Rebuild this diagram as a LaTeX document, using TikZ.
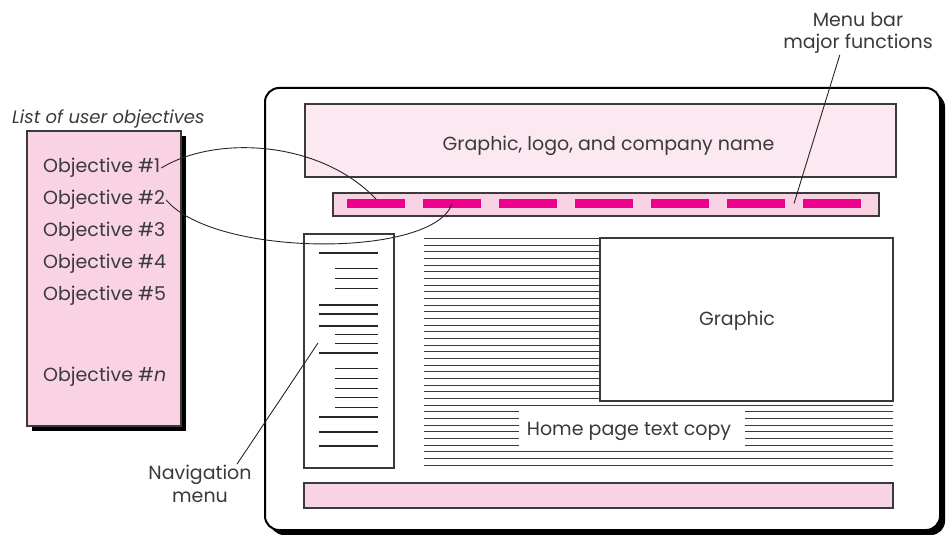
\documentclass[tikz,border=0pt]{standalone}
\usepackage{fontspec}
\setmainfont{Poppins}
\usetikzlibrary{shadows,calc}
\definecolor{pinklight}{HTML}{FCE8F1}
\definecolor{pinkmid}{HTML}{F9D3E4}
\definecolor{magentabar}{HTML}{EC008C}
\definecolor{inkgray}{HTML}{3A3A3A}
\tikzset{
  txt/.style={font=\fontsize{19}{22.5}\selectfont, text=inkgray, inner sep=1pt, yshift=-3pt},
  panel/.style={draw=inkgray, line width=1.2pt, fill=#1, inner sep=0pt},
  hardshadow/.style={drop shadow={shadow xshift=5pt, shadow yshift=-5pt, fill=black, opacity=1}},
  menudash/.style={fill=magentabar, minimum width=58pt, minimum height=8.5pt, inner sep=0pt},
  copyline/.style={draw=inkgray, line width=0.9pt},
  navthick/.style={draw=black!85, line width=2pt},
  navthin/.style={draw=black!85, line width=1pt},
  connector/.style={draw=black!85, line width=0.9pt},
}
\begin{document}
\begin{tikzpicture}[x=1pt, y=-1pt]
  \useasboundingbox (0,0) rectangle (948,535);
  % browser window
  \node[draw=black, line width=2pt, fill=white, rounded corners=14pt, hardshadow,
        minimum width=675pt, minimum height=442pt, inner sep=0pt] (browser) at (602.5,309) {};
  \node[panel=pinklight, minimum width=591pt, minimum height=73pt] (header) at (600.5,140.5) {};
  \node[txt] (headertxt) at ($(header.center)+(8,2)$) {Graphic, logo, and company name};
  \node[panel=pinkmid, minimum width=546pt, minimum height=23pt] (menubar) at (606,204.5) {};
  \foreach \i in {1,...,7}
    \node[menudash] (d\i) at ({376+76*(\i-1)},203.5) {};
  % navigation column
  \node[panel=white, minimum width=90pt, minimum height=234pt] (nav) at (349,351) {};
  \foreach \y in {253,305,314,326,353,417,432,446}
    \draw[navthick] (319,\y) -- (378,\y);
  \foreach \y in {268,278,288,334,343,368,378,388,397,407}
    \draw[navthin] (335,\y) -- (378,\y);
  % text copy
  \foreach \k [evaluate=\k as \y using 238.3+6.67*\k] in {0,...,24}
    \draw[copyline] (424,\y) -- (600,\y);
  \foreach \k [evaluate=\k as \y using 238.3+6.67*\k] in {25,32,33,34}
    \draw[copyline] (424,\y) -- (893,\y);
  \foreach \k [evaluate=\k as \y using 238.3+6.67*\k] in {26,...,31} {
    \draw[copyline] (424,\y) -- (519,\y);
    \draw[copyline] (745,\y) -- (893,\y);
  }
  \node[panel=white, minimum width=293pt, minimum height=163pt] (graphic) at (746.5,319.5) {};
  \node[txt] (graphictxt) at ($(graphic.center)+(-9.5,-1.5)$) {Graphic};
  \node[txt] (homecopy) at (629,428.5) {Home page text copy};
  \node[panel=pinkmid, minimum width=589pt, minimum height=25pt] (footer) at (598.5,495.5) {};
  % objectives list
  \node[txt, anchor=west, font=\fontsize{18}{22.5}\selectfont\itshape] (objtitle) at (11,116) {List of user objectives};
  \node[panel=pinkmid, hardshadow, minimum width=154pt, minimum height=295pt] (objlist) at (104,278.5) {};
  \foreach \i/\y in {1/165,2/197,3/229,4/261,5/293}
    \node[txt, anchor=west] (obj\i) at (42,\y) {Objective \#\i};
  \node[txt, anchor=west] (objn) at (42,374) {Objective \#\textit{n}};
  % links to the menu bar
  \draw[connector] (obj1.east) .. controls (215,135) and (320,140) .. (d1.north);
  \draw[connector] (obj2.east) .. controls (215,258) and (435,258) .. (d2.center);
  % callouts
  \node[txt, align=center] (menulbl) at (858,30) {Menu bar\\major functions};
  \coordinate (menugap) at ($(d6.east)!0.5!(d7.west)$);
  \draw[connector] ($(menulbl.south west)!0.38!(menulbl.south east)$) -- (menugap);
  \node[txt, align=center] (navlbl) at (200,481) {Navigation\\menu};
  \coordinate (navpt) at (318,343);
  \draw[connector] ($(navlbl.north west)!0.85!(navlbl.north east)$) -- (navpt);
\end{tikzpicture}
\end{document}
